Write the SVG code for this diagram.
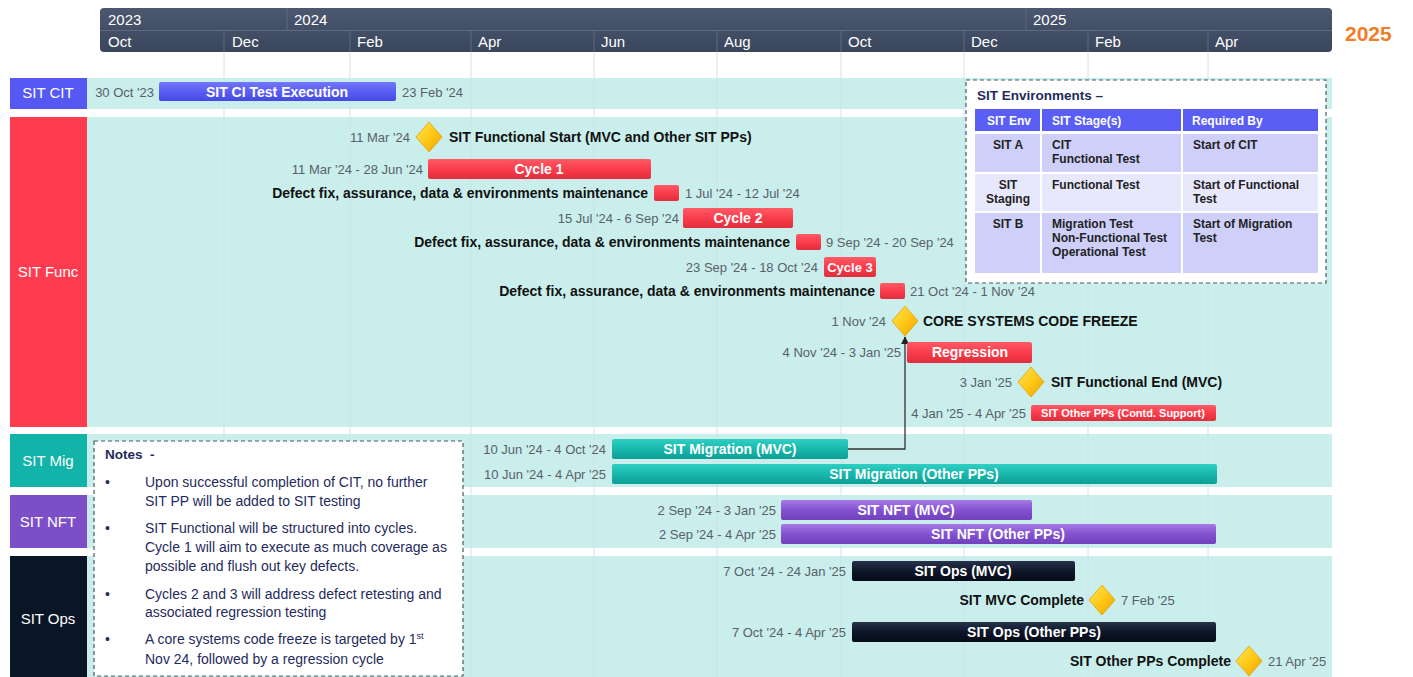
<svg xmlns="http://www.w3.org/2000/svg" width="1413" height="677" viewBox="0 0 1413 677">
<style>
text{font-family:"Liberation Sans",Arial,sans-serif}
.hdr{fill:#ffffff;font-size:15px}
.lane{fill:#ffffff;font-size:15px;text-anchor:middle}
.band{fill:#c9eeeb}
.grid{stroke:#cfe2ee;stroke-width:1}
.date{fill:#59606b;font-size:13px}
.lbl{fill:#111111;font-size:14px;font-weight:bold}
.bt{fill:#ffffff;font-size:14px;font-weight:bold;text-anchor:middle}
.bt13{font-size:13px}
.bt11{font-size:11px}
.end{text-anchor:end}
.red{fill:url(#gRed)}
.teal{fill:url(#gTeal)}
.purp{fill:url(#gPurp)}
.navy{fill:url(#gNavy)}
.blue{fill:url(#gBlue)}
.dia{fill:url(#gGold);stroke:#e3a200;stroke-width:0.8}
.dash{fill:#ffffff;stroke:#4a5a66;stroke-width:1.2;stroke-dasharray:4 3}
.note{fill:#1f2b5c;font-size:14px}
.th{fill:#ffffff;font-size:12px;font-weight:bold}
.td{fill:#222222;font-size:12px;font-weight:bold}
.conn{fill:none;stroke:#333333;stroke-width:1.3}
</style>
<defs>
<linearGradient id="gHdr" x1="0" y1="0" x2="0" y2="1"><stop offset="0" stop-color="#4b5870"/><stop offset="1" stop-color="#3a465c"/></linearGradient>
<linearGradient id="gRed" x1="0" y1="0" x2="0" y2="1"><stop offset="0" stop-color="#ff5a66"/><stop offset="0.5" stop-color="#fb3d4c"/><stop offset="1" stop-color="#e02d3c"/></linearGradient>
<linearGradient id="gTeal" x1="0" y1="0" x2="0" y2="1"><stop offset="0" stop-color="#2fd0c4"/><stop offset="0.5" stop-color="#18b7ac"/><stop offset="1" stop-color="#0e9f95"/></linearGradient>
<linearGradient id="gPurp" x1="0" y1="0" x2="0" y2="1"><stop offset="0" stop-color="#a57ae8"/><stop offset="0.5" stop-color="#8452d0"/><stop offset="1" stop-color="#7040bd"/></linearGradient>
<linearGradient id="gNavy" x1="0" y1="0" x2="0" y2="1"><stop offset="0" stop-color="#27324a"/><stop offset="0.5" stop-color="#0e1628"/><stop offset="1" stop-color="#050a16"/></linearGradient>
<linearGradient id="gBlue" x1="0" y1="0" x2="0" y2="1"><stop offset="0" stop-color="#7377fa"/><stop offset="0.5" stop-color="#5a5ef5"/><stop offset="1" stop-color="#4449e2"/></linearGradient>
<linearGradient id="gGold" x1="0" y1="0" x2="1" y2="1"><stop offset="0" stop-color="#ffe55a"/><stop offset="0.5" stop-color="#ffc918"/><stop offset="1" stop-color="#f0a000"/></linearGradient>
<marker id="arr" viewBox="0 0 10 10" refX="9" refY="5" markerWidth="6" markerHeight="6" orient="auto"><path d="M0,0 L10,5 L0,10 z" fill="#222222"/></marker>
</defs>

<g id="timescale">
<rect x="100" y="8" width="1232" height="44" rx="4" fill="url(#gHdr)"/>
<line x1="100" y1="30.5" x2="1332" y2="30.5" stroke="#5d6a80" stroke-width="1"/>
<g stroke="#5d6a80" stroke-width="1">
<line x1="287" y1="8" x2="287" y2="30"/><line x1="1026" y1="8" x2="1026" y2="30"/>
<line x1="224" y1="31" x2="224" y2="52"/><line x1="350" y1="31" x2="350" y2="52"/><line x1="471" y1="31" x2="471" y2="52"/><line x1="594" y1="31" x2="594" y2="52"/><line x1="717" y1="31" x2="717" y2="52"/><line x1="841" y1="31" x2="841" y2="52"/><line x1="964" y1="31" x2="964" y2="52"/><line x1="1088" y1="31" x2="1088" y2="52"/><line x1="1208" y1="31" x2="1208" y2="52"/>
</g>
<text class="hdr" x="108" y="25">2023</text><text class="hdr" x="294" y="25">2024</text><text class="hdr" x="1033" y="25">2025</text>
<text class="hdr" x="108" y="47">Oct</text><text class="hdr" x="232" y="47">Dec</text><text class="hdr" x="357" y="47">Feb</text><text class="hdr" x="478" y="47">Apr</text><text class="hdr" x="601" y="47">Jun</text><text class="hdr" x="724" y="47">Aug</text><text class="hdr" x="848" y="47">Oct</text><text class="hdr" x="971" y="47">Dec</text><text class="hdr" x="1095" y="47">Feb</text><text class="hdr" x="1215" y="47">Apr</text>
<text x="1345" y="41" fill="#f07d27" font-size="21" font-weight="bold">2025</text>
</g>

<g id="bands">
<rect class="band" x="87" y="78" width="1245" height="31"/>
<rect class="band" x="87" y="117" width="1245" height="310"/>
<rect class="band" x="87" y="434" width="1245" height="53"/>
<rect class="band" x="87" y="495" width="1245" height="53"/>
<rect class="band" x="87" y="556" width="1245" height="121"/>
</g>

<g id="gridlines">
<line class="grid" x1="224" y1="52" x2="224" y2="677"/><line class="grid" x1="350" y1="52" x2="350" y2="677"/><line class="grid" x1="471" y1="52" x2="471" y2="677"/><line class="grid" x1="594" y1="52" x2="594" y2="677"/><line class="grid" x1="717" y1="52" x2="717" y2="677"/><line class="grid" x1="841" y1="52" x2="841" y2="677"/><line class="grid" x1="964" y1="52" x2="964" y2="677"/><line class="grid" x1="1088" y1="52" x2="1088" y2="677"/><line class="grid" x1="1208" y1="52" x2="1208" y2="677"/>
</g>

<g id="lane-cit"><rect x="10" y="78" width="77" height="31" fill="#5558f2"/><text class="lane" x="48" y="98">SIT CIT</text></g>
<g id="lane-func"><rect x="10" y="117" width="77" height="310" fill="#ff3c4f"/><text class="lane" x="48" y="277">SIT Func</text></g>
<g id="lane-mig"><rect x="10" y="434" width="77" height="53" fill="#12b3a8"/><text class="lane" x="48" y="466">SIT Mig</text></g>
<g id="lane-nft"><rect x="10" y="495" width="77" height="53" fill="#7c4fc9"/><text class="lane" x="48" y="527">SIT NFT</text></g>
<g id="lane-ops"><rect x="10" y="556" width="77" height="121" fill="#0a1526"/><text class="lane" x="48" y="624">SIT Ops</text></g>

<g id="env-box">
<rect class="dash" x="966" y="80" width="360" height="203"/>
<text x="977" y="100" fill="#1f2b5c" font-size="13.5" font-weight="bold">SIT Environments –</text>
<rect x="975" y="109" width="65" height="22" fill="#5a5ef5"/><rect x="1042" y="109" width="139" height="22" fill="#5a5ef5"/><rect x="1183" y="109" width="135" height="22" fill="#5a5ef5"/>
<text class="th" x="987" y="125">SIT Env</text><text class="th" x="1052" y="125">SIT Stage(s)</text><text class="th" x="1192" y="125">Required By</text>
<rect x="975" y="134" width="65" height="38" fill="#cfd0fa"/><rect x="1042" y="134" width="139" height="38" fill="#cfd0fa"/><rect x="1183" y="134" width="135" height="38" fill="#cfd0fa"/>
<rect x="975" y="174" width="65" height="37" fill="#e8e8fd"/><rect x="1042" y="174" width="139" height="37" fill="#e8e8fd"/><rect x="1183" y="174" width="135" height="37" fill="#e8e8fd"/>
<rect x="975" y="213" width="65" height="60" fill="#cfd0fa"/><rect x="1042" y="213" width="139" height="60" fill="#cfd0fa"/><rect x="1183" y="213" width="135" height="60" fill="#cfd0fa"/>
<text class="td" x="1008" y="149" text-anchor="middle">SIT A</text>
<text class="td" x="1052" y="149">CIT</text><text class="td" x="1052" y="163">Functional Test</text>
<text class="td" x="1193" y="149">Start of CIT</text>
<text class="td" x="1008" y="189" text-anchor="middle">SIT</text><text class="td" x="1008" y="203" text-anchor="middle">Staging</text>
<text class="td" x="1052" y="189">Functional Test</text>
<text class="td" x="1193" y="189">Start of Functional</text><text class="td" x="1193" y="203">Test</text>
<text class="td" x="1008" y="228" text-anchor="middle">SIT B</text>
<text class="td" x="1052" y="228">Migration Test</text><text class="td" x="1052" y="242">Non-Functional Test</text><text class="td" x="1052" y="256">Operational Test</text>
<text class="td" x="1193" y="228">Start of Migration</text><text class="td" x="1193" y="242">Test</text>
</g>

<g id="notes-box">
<rect class="dash" x="94" y="441" width="369" height="235"/>
<text x="105" y="459" fill="#1f2b5c" font-size="13.5" font-weight="bold">Notes</text>
<text x="150" y="459" fill="#1f2b5c" font-size="13.5" font-weight="bold">-</text>
<g class="note">
<text x="105" y="487">•</text><text x="145" y="487">Upon successful completion of CIT, no further</text>
<text x="145" y="506">SIT PP will be added to SIT testing</text>
<text x="105" y="533">•</text><text x="145" y="533">SIT Functional will be structured into cycles.</text>
<text x="145" y="552">Cycle 1 will aim to execute as much coverage as</text>
<text x="145" y="571">possible and flush out key defects.</text>
<text x="105" y="599">•</text><text x="145" y="599">Cycles 2 and 3 will address defect retesting and</text>
<text x="145" y="617">associated regression testing</text>
<text x="105" y="644">•</text><text x="145" y="644">A core systems code freeze is targeted by 1<tspan style="font-size:9px" dy="-5">st</tspan></text>
<text x="145" y="664">Nov 24, followed by a regression cycle</text>
</g>
</g>

<g id="connectors">
<path class="conn" d="M848,449 H905 V337" marker-end="url(#arr)"/>
</g>

<g id="cit-exec"><text class="date end" x="154" y="96.5">30 Oct '23</text><rect class="blue" x="159" y="82" width="237" height="19" rx="2"/><text class="bt" x="277" y="97">SIT CI Test Execution</text><text class="date" x="402" y="96.5">23 Feb '24</text></g>

<g id="func-start"><text class="date end" x="410" y="141.5">11 Mar '24</text><polygon class="dia" points="429,122 442,137 429,152 416,137"/><text class="lbl" x="449" y="142">SIT Functional Start (MVC and Other SIT PPs)</text></g>
<g id="cycle1"><text class="date end" x="423" y="173.5">11 Mar '24 - 28 Jun '24</text><rect class="red" x="428" y="159" width="223" height="20" rx="2"/><text class="bt" x="539" y="174">Cycle 1</text></g>
<g id="defect1"><text class="lbl end" x="648" y="198">Defect fix, assurance, data &amp; environments maintenance</text><rect class="red" x="654" y="185" width="25" height="16" rx="2"/><text class="date" x="685" y="197.5">1 Jul '24 - 12 Jul '24</text></g>
<g id="cycle2"><text class="date end" x="679" y="222.5">15 Jul '24 - 6 Sep '24</text><rect class="red" x="683" y="208" width="110" height="20" rx="2"/><text class="bt" x="738" y="223">Cycle 2</text></g>
<g id="defect2"><text class="lbl end" x="790" y="247">Defect fix, assurance, data &amp; environments maintenance</text><rect class="red" x="796" y="234" width="25" height="16" rx="2"/><text class="date" x="826" y="246.5">9 Sep '24 - 20 Sep '24</text></g>
<g id="cycle3"><text class="date end" x="818" y="271.5">23 Sep '24 - 18 Oct '24</text><rect class="red" x="824" y="257" width="52" height="20" rx="2"/><text class="bt bt13" x="850" y="272">Cycle 3</text></g>
<g id="defect3"><text class="lbl end" x="875" y="296">Defect fix, assurance, data &amp; environments maintenance</text><rect class="red" x="880" y="283" width="25" height="16" rx="2"/><text class="date" x="910" y="295.5">21 Oct '24 - 1 Nov '24</text></g>
<g id="code-freeze"><text class="date end" x="886" y="325.5">1 Nov '24</text><polygon class="dia" points="905,306 918,321 905,336 892,321"/><text class="lbl" x="923" y="326">CORE SYSTEMS CODE FREEZE</text></g>
<g id="regression"><text class="date end" x="901" y="356.5">4 Nov '24 - 3 Jan '25</text><rect class="red" x="907" y="342" width="125" height="21" rx="2"/><text class="bt" x="970" y="357">Regression</text></g>
<g id="func-end"><text class="date end" x="1012" y="386.5">3 Jan '25</text><polygon class="dia" points="1031,367 1044,382 1031,397 1018,382"/><text class="lbl" x="1051" y="387">SIT Functional End (MVC)</text></g>
<g id="other-contd"><text class="date end" x="1026" y="417.5">4 Jan '25 - 4 Apr '25</text><rect class="red" x="1031" y="405" width="185" height="16" rx="2"/><text class="bt bt11" x="1123" y="417">SIT Other PPs (Contd. Support)</text></g>

<g id="mig-mvc"><text class="date end" x="606" y="453.5">10 Jun '24 - 4 Oct '24</text><rect class="teal" x="612" y="439" width="236" height="20" rx="2"/><text class="bt" x="730" y="454">SIT Migration (MVC)</text></g>
<g id="mig-other"><text class="date end" x="606" y="478.5">10 Jun '24 - 4 Apr '25</text><rect class="teal" x="612" y="464" width="605" height="20" rx="2"/><text class="bt" x="914" y="479">SIT Migration (Other PPs)</text></g>

<g id="nft-mvc"><text class="date end" x="776" y="514.5">2 Sep '24 - 3 Jan '25</text><rect class="purp" x="781" y="500" width="251" height="20" rx="2"/><text class="bt" x="906" y="515">SIT NFT (MVC)</text></g>
<g id="nft-other"><text class="date end" x="776" y="538.5">2 Sep '24 - 4 Apr '25</text><rect class="purp" x="781" y="524" width="435" height="20" rx="2"/><text class="bt" x="998" y="539">SIT NFT (Other PPs)</text></g>

<g id="ops-mvc"><text class="date end" x="846" y="575.5">7 Oct '24 - 24 Jan '25</text><rect class="navy" x="852" y="561" width="223" height="20" rx="2"/><text class="bt" x="963" y="576">SIT Ops (MVC)</text></g>
<g id="mvc-complete"><text class="lbl end" x="1084" y="605">SIT MVC Complete</text><polygon class="dia" points="1102,585 1115,600 1102,615 1089,600"/><text class="date" x="1121" y="604.5">7 Feb '25</text></g>
<g id="ops-other"><text class="date end" x="846" y="636.5">7 Oct '24 - 4 Apr '25</text><rect class="navy" x="852" y="622" width="364" height="20" rx="2"/><text class="bt" x="1034" y="637">SIT Ops (Other PPs)</text></g>
<g id="other-complete"><text class="lbl end" x="1231" y="666">SIT Other PPs Complete</text><polygon class="dia" points="1249,646 1262,661 1249,676 1236,661"/><text class="date" x="1268" y="665.5">21 Apr '25</text></g>
</svg>
